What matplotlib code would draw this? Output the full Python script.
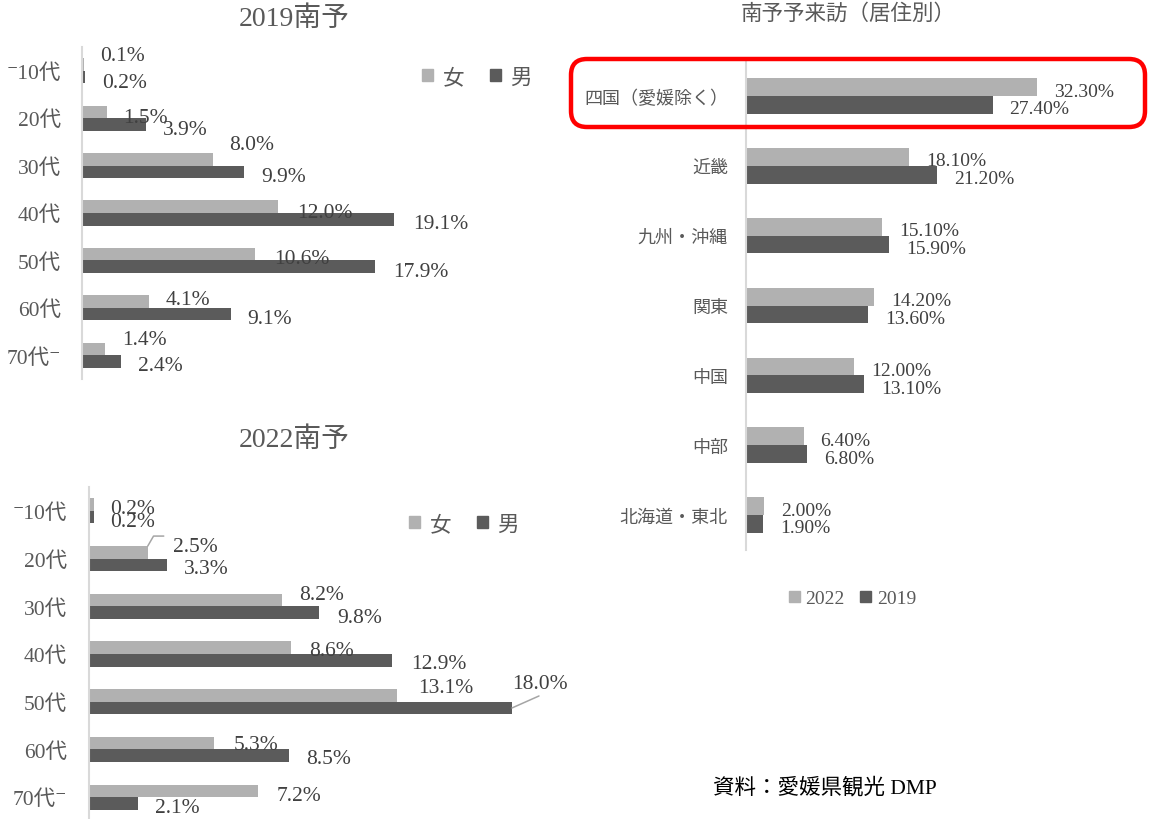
import numpy as np
import matplotlib
matplotlib.use('Agg')
import matplotlib.pyplot as plt
from matplotlib.patches import Patch, FancyBboxPatch
from matplotlib.transforms import IdentityTransform

plt.rcParams['font.family'] = ['Liberation Serif', 'DejaVu Serif', 'Noto Sans CJK JP']

# data
ages = ['⁻10代', '20代', '30代', '40代', '50代', '60代', '70代⁻']
female_2019 = [0.1, 1.5, 8.0, 12.0, 10.6, 4.1, 1.4]
male_2019 = [0.2, 3.9, 9.9, 19.1, 17.9, 9.1, 2.4]
female_2022 = [0.2, 2.5, 8.2, 8.6, 13.1, 5.3, 7.2]
male_2022 = [0.2, 3.3, 9.8, 12.9, 18.0, 8.5, 2.1]

regions = ['四国（愛媛除く）', '近畿', '九州・沖縄', '関東', '中国', '中部', '北海道・東北']
visit_2022 = [32.3, 18.1, 15.1, 14.2, 12.0, 6.4, 2.0]
visit_2019 = [27.4, 21.2, 15.9, 13.6, 13.1, 6.8, 1.9]

# label nudges in pixels (dx right, dy down), as dragged in the original
f19_dx = [16, 17, 16.6, 18.6, 18.9, 16.6, 17]
f19_dy = [-10.5, 4, -16.3, 3.3, 2, -4.5, -12]
m19_dx = [16.8, 17.3, 17.7, 18.6, 18.8, 16.5, 16.8]
m19_dy = [4, 2.6, 2.2, 1.8, 2.4, 2, 1.6]
f22_dx = [16, 25, 17.3, 18, 21.6, 20, 18.8]
f22_dy = [2, -7.5, -8, 1, -10, -1, 3]
m22_dx = [16, 17.2, 17.7, 19.3, 0, 17.7, 16.2]
m22_dy = [2, 2, 3.4, 1.7, -26, 1.3, 2.6]

W, H = 1156, 820
PT = 72 / 100  # pixels -> points

light = '#B1B1B1'
dark = '#5B5B5B'
label_col = '#404040'
text_col = '#595959'

fig = plt.figure(figsize=(W / 100, H / 100), dpi=100)


def add_ax(left, top, width, height):
    return fig.add_axes([left / W, 1 - (top + height) / H, width / W, height / H])


def style_ax(ax, xmax, cats, fs, pad):
    ax.set_xlim(0, xmax)
    ax.set_ylim(len(cats) - 0.5, -0.5)
    ax.set_yticks(np.arange(len(cats)))
    ax.set_yticklabels(cats, fontsize=fs, color=text_col)
    ax.tick_params(axis='y', length=0, pad=pad)
    ax.set_xticks([])
    for s in ['top', 'right', 'bottom']:
        ax.spines[s].set_visible(False)
    ax.spines['left'].set_color('#D9D9D9')
    ax.spines['left'].set_linewidth(1.5)
    ax.patch.set_alpha(0)


def label_bars(ax, vals, ys, dxs, dys, fmt, fs):
    for v, y, dx, dy in zip(vals, ys, dxs, dys):
        ax.annotate(fmt.format(v), xy=(v, y), xytext=(dx * PT, -(dy + 2) * PT),
                    textcoords='offset points', ha='left', va='center',
                    fontsize=fs, color=label_col, annotation_clip=False)


def leader(ax, v, y, dx, dy, conn):
    ax.annotate('', xy=(v, y), xytext=(dx * PT, -dy * PT), textcoords='offset points',
                arrowprops=dict(arrowstyle='-', color='#A5A5A5', lw=1.1,
                                shrinkA=0, shrinkB=0, connectionstyle=conn),
                annotation_clip=False)


def age_chart(ax, fem, mal, xmax, h, fdx, fdy, mdx, mdy, pad):
    y = np.arange(len(ages))
    ax.barh(y - h / 2, fem, height=h, color=light)
    ax.barh(y + h / 2, mal, height=h, color=dark)
    style_ax(ax, xmax, ages, 15.5, pad)
    label_bars(ax, fem, y - h / 2, fdx, fdy, '{:.1f}%', 15.5)
    label_bars(ax, mal, y + h / 2, mdx, mdy, '{:.1f}%', 15.5)
    return y


def sex_legend(x, y):
    fig.legend(handles=[Patch(color=light, label='女'), Patch(color=dark, label='男')],
               loc='center left', bbox_to_anchor=(x / W, 1 - y / H), ncol=2, frameon=False,
               fontsize=15.5, handlelength=0.5, handleheight=0.5, handletextpad=0.45,
               columnspacing=1.2, borderpad=0, borderaxespad=0, labelcolor=text_col)


# 2019
ax1 = add_ax(82, 48, 478, 332)
age_chart(ax1, female_2019, male_2019, 478 / 16.35, 0.265, f19_dx, f19_dy, m19_dx, m19_dy, 15)
fig.text(294 / W, 1 - 19 / H, '2019南予', ha='center', va='center', fontsize=20, color=text_col)
sex_legend(422, 79)

# 2022
ax2 = add_ax(89, 488, 491, 334)
y2 = age_chart(ax2, female_2022, male_2022, 491 / 23.5, 0.262, f22_dx, f22_dy, m22_dx, m22_dy, 16)
leader(ax2, female_2022[1], y2[1] - 0.262, 16, -10, 'angle,angleA=0,angleB=60,rad=0')
leader(ax2, male_2022[4], y2[4] + 0.131, 27, -12, 'arc3')
fig.text(294 / W, 1 - 440 / H, '2022南予', ha='center', va='center', fontsize=20, color=text_col)
sex_legend(409, 526)

# 居住別
ax3 = add_ax(746, 62, 400, 489)
h3 = 0.255
yr = np.arange(len(regions))
ax3.barh(yr - h3 / 2, visit_2022, height=h3, color=light)
ax3.barh(yr + h3 / 2, visit_2019, height=h3, color=dark)
style_ax(ax3, 400 / 9.0, regions, 13, 13)
label_bars(ax3, visit_2022, yr - h3 / 2, [17] * 7, [2] * 7, '{:.2f}%', 14)
label_bars(ax3, visit_2019, yr + h3 / 2, [17] * 7, [2] * 7, '{:.2f}%', 14)
fig.text(848 / W, 1 - 15 / H, '南予予来訪（居住別）', ha='center', va='center',
         fontsize=15.5, color=text_col)
fig.legend(handles=[Patch(color=light, label='2022'), Patch(color=dark, label='2019')],
           loc='center left', bbox_to_anchor=(789 / W, 1 - 600 / H), ncol=2, frameon=False,
           fontsize=14, handlelength=0.55, handleheight=0.55, handletextpad=0.3,
           columnspacing=0.8, borderpad=0, borderaxespad=0, labelcolor=text_col)

# red highlight box around 四国
fig.add_artist(FancyBboxPatch((571, H - 128), 574, 68, boxstyle='round,pad=0,rounding_size=16',
                              transform=IdentityTransform(), fill=False,
                              edgecolor='#FF0000', linewidth=3.2))

fig.text(713 / W, 1 - 788 / H, '資料：愛媛県観光 DMP', ha='left', va='center',
         fontsize=15.5, color='black')

fig.savefig('out.png', dpi=100)
